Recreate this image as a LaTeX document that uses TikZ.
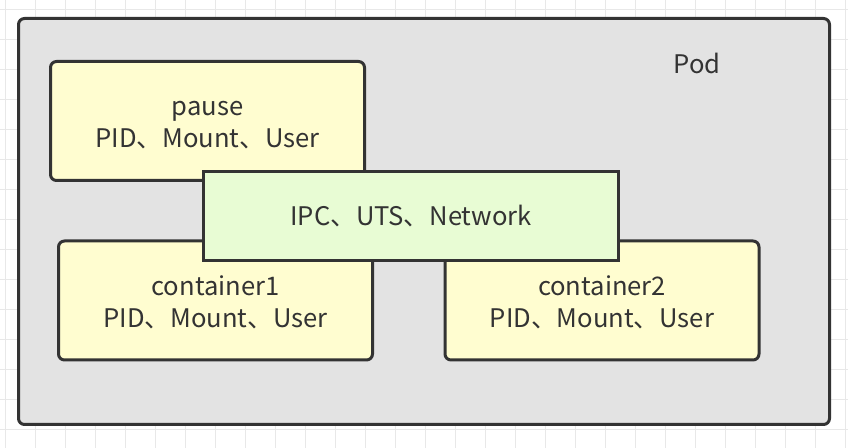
\documentclass[tikz,border=0pt]{standalone}
\usepackage{fontspec}
\setmainfont{Noto Sans CJK SC}
\usepackage{tikz}
\usetikzlibrary{positioning}
\definecolor{podgray}{RGB}{227,227,227}
\definecolor{boxyellow}{RGB}{255,253,208}
\definecolor{boxgreen}{RGB}{232,252,212}
\definecolor{edgegray}{RGB}{51,51,51}
\definecolor{gridgray}{RGB}{232,232,232}

\begin{document}
\begin{tikzpicture}[x=0.5pt, y=-0.5pt,
    nsbox/.style={rectangle, draw=edgegray, line width=1.5pt, inner sep=0pt,
        align=center, font=\fontsize{12.8}{16}\selectfont, text=edgegray},
    yellowbox/.style={nsbox, fill=boxyellow, rounded corners=3pt,
        minimum width=157pt, minimum height=59.5pt},
    greenbox/.style={nsbox, fill=boxgreen, minimum width=207.5pt, minimum height=44.5pt}]
    \useasboundingbox (0,0) rectangle (848,448);
    % background grid
    \foreach \gx in {5,35,...,845} {
        \draw[gridgray, line width=0.5pt] (\gx,0) -- (\gx,448);
    }
    \foreach \gy in {10,40,...,440} {
        \draw[gridgray, line width=0.5pt] (0,\gy) -- (848,\gy);
    }

    % Pod
    \node[nsbox, fill=podgray, rounded corners=3pt, minimum width=405.5pt, minimum height=203pt]
        (pod) at (424, 221.5) {};
    \node[font=\fontsize{12.8}{16}\selectfont, text=edgegray] (podlabel) at (697, 63) {Pod};

    % containers
    \node[yellowbox] (pause) at (207.5, 121) {\rule{0pt}{11.5pt}pause\\PID、Mount、User};
    \node[yellowbox] (container1) at (215.5, 300.5) {\rule{0pt}{11.5pt}container1\\PID、Mount、User};
    \node[yellowbox] (container2) at (602, 300.5) {\rule{0pt}{11.5pt}container2\\PID、Mount、User};

    % shared namespaces
    \node[greenbox] (shared) at (411, 216) {IPC、UTS、Network};
\end{tikzpicture}
\end{document}
